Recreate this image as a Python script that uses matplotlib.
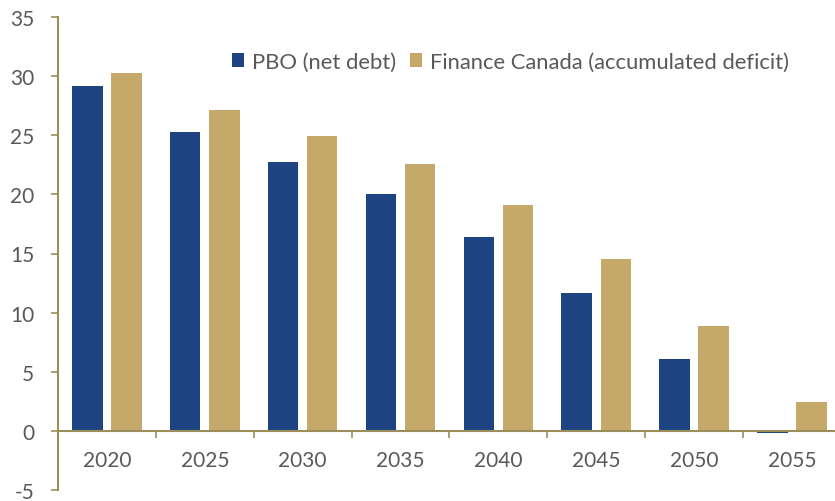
import matplotlib.pyplot as plt
import numpy as np

# data
years = ["2020", "2025", "2030", "2035", "2040", "2045", "2050", "2055"]
pbo_net_debt = [29.2, 25.3, 22.7, 20.0, 16.4, 11.7, 6.1, -0.2]
finance_canada = [30.3, 27.1, 24.9, 22.6, 19.1, 14.5, 8.9, 2.4]

BLUE = "#1D4380"
GOLD = "#C4A96B"
AXIS_COLOR = "#9B8E5B"
TEXT_COLOR = "#595959"

plt.rcParams["font.family"] = ["Lato", "DejaVu Sans"]
plt.rcParams["axes.unicode_minus"] = False

fig = plt.figure(figsize=(8.35, 5.02), dpi=100)
ax = fig.add_axes([58 / 835, 11 / 502, (835 - 58) / 835, (491 - 18) / 502])

x = np.arange(len(years))
bar_w = 0.31
offset = 0.2
ax.bar(x - offset, pbo_net_debt, width=bar_w, color=BLUE, label="PBO (net debt)")
ax.bar(x + offset, finance_canada, width=bar_w, color=GOLD,
       label="Finance Canada (accumulated deficit)")

ax.set_ylim(-5, 35)
ax.set_yticks(range(-5, 36, 5))
ax.set_xlim(-0.5, 7.44)

# x axis sits on zero, ticks at category boundaries
ax.spines["bottom"].set_position(("data", 0))
ax.spines["top"].set_visible(False)
ax.spines["right"].set_visible(False)
for s in ["left", "bottom"]:
    ax.spines[s].set_color(AXIS_COLOR)
    ax.spines[s].set_linewidth(1.5)

ax.set_xticks(np.arange(0.5, 7, 1))
ax.set_xticklabels([])
ax.tick_params(axis="x", which="major", direction="out", length=5,
               width=1.2, color=AXIS_COLOR)
ax.set_xticks(x, minor=True)
ax.set_xticklabels(years, minor=True)
ax.tick_params(axis="x", which="minor", length=0, pad=14,
               labelsize=15, labelcolor=TEXT_COLOR)
ax.tick_params(axis="y", direction="out", length=5, width=1.2,
               color=AXIS_COLOR, labelsize=15, labelcolor=TEXT_COLOR, pad=12)

leg = ax.legend(loc="upper left", bbox_to_anchor=(0.212, 0.945), ncol=2,
                frameon=False, fontsize=15.8, handlelength=0.55, handleheight=0.55,
                handletextpad=0.4, columnspacing=0.6, borderaxespad=0)
for t in leg.get_texts():
    t.set_color(TEXT_COLOR)

fig.savefig("out.png", dpi=100)
